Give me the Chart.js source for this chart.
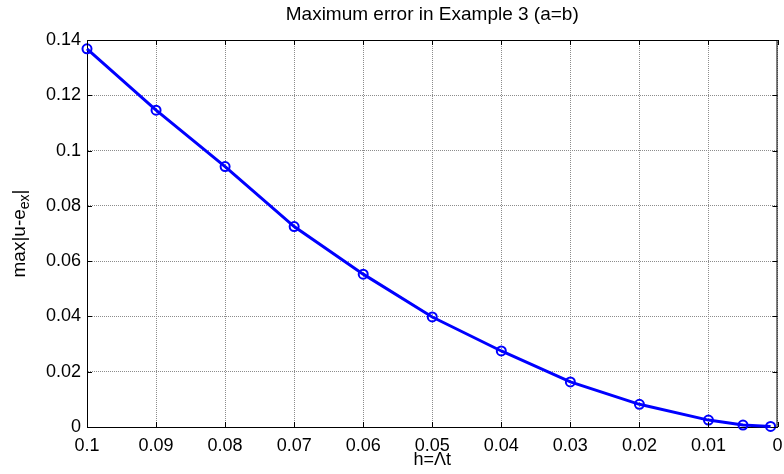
<!DOCTYPE html>
<html>
<head>
<meta charset="utf-8">
<script src="https://cdn.jsdelivr.net/npm/chart.js@4"></script>
<style>
    body { margin: 0; background: #fff; }
    #wrap { width: 784px; height: 474px; }
</style>
</head>
<body>
<div id="wrap"><canvas id="chart" width="784" height="474"></canvas></div>
<script>
// step sizes h and the maximum error for each
const hValues = [0.1, 0.09, 0.08, 0.07, 0.06, 0.05, 0.04, 0.03, 0.02, 0.01, 0.005, 0.001];
const maxErr = [0.1368, 0.1146, 0.0942, 0.0725, 0.0553, 0.0398, 0.0275, 0.0163, 0.0082, 0.0025, 0.0007, 0.0002];

const xTicks = [0.1, 0.09, 0.08, 0.07, 0.06, 0.05, 0.04, 0.03, 0.02, 0.01, 0];
const xTickLabels = ["0.1", "0.09", "0.08", "0.07", "0.06", "0.05", "0.04", "0.03", "0.02", "0.01", "0"];
const yTicks = [0, 0.02, 0.04, 0.06, 0.08, 0.1, 0.12, 0.14];
const yTickLabels = ["0", "0.02", "0.04", "0.06", "0.08", "0.1", "0.12", "0.14"];

const titleText = "Maximum error in Example 3 (a=b)";
const xLabel = "h=\u039Bt";

const FONT = "'Liberation Sans', Arial, Helvetica, sans-serif";

// MATLAB-ish frame: box, inward ticks, title and axis labels
const matlabFrame = {
    id: "matlabFrame",
    afterDraw(chart) {
        const ctx = chart.ctx;
        const a = chart.chartArea;
        const xs = chart.scales.x, ys = chart.scales.y;
        ctx.save();
        ctx.strokeStyle = "#000";
        ctx.lineWidth = 1;
        ctx.beginPath();
        ctx.moveTo(a.left, a.top + 0.5);
        ctx.lineTo(a.right, a.top + 0.5);
        ctx.moveTo(a.right - 0.5, a.top);
        ctx.lineTo(a.right - 0.5, a.bottom);
        // inward ticks
        const tl = 5;
        xTicks.forEach(v => {
            const px = Math.round(xs.getPixelForValue(v)) + 0.5;
            ctx.moveTo(px, a.bottom); ctx.lineTo(px, a.bottom - tl);
            ctx.moveTo(px, a.top); ctx.lineTo(px, a.top + tl);
        });
        yTicks.forEach(v => {
            const py = Math.round(ys.getPixelForValue(v)) + 0.5;
            ctx.moveTo(a.left, py); ctx.lineTo(a.left + tl, py);
            ctx.moveTo(a.right, py); ctx.lineTo(a.right - tl, py);
        });
        ctx.stroke();

        ctx.fillStyle = "#000";
        ctx.textAlign = "center";
        ctx.textBaseline = "middle";
        ctx.font = "19px " + FONT;
        const cx = (a.left + a.right) / 2;
        ctx.fillText(titleText, cx, 15);
        ctx.font = "18px " + FONT;
        ctx.fillText(xLabel, cx, 460);

        // y label with subscript
        ctx.translate(19, (a.top + a.bottom) / 2);
        ctx.rotate(-Math.PI / 2);
        ctx.textAlign = "left";
        ctx.textBaseline = "alphabetic";
        const main = "max|u-e", sub = "ex", tail = "|";
        ctx.font = "19px " + FONT;
        const w1 = ctx.measureText(main).width;
        const w3 = ctx.measureText(tail).width;
        ctx.font = "14px " + FONT;
        const w2 = ctx.measureText(sub).width;
        const total = w1 + w2 + w3;
        let x0 = -total / 2;
        ctx.font = "19px " + FONT;
        ctx.fillText(main, x0, 6);
        ctx.font = "14px " + FONT;
        ctx.fillText(sub, x0 + w1, 10);
        ctx.font = "19px " + FONT;
        ctx.fillText(tail, x0 + w1 + w2, 6);
        ctx.restore();
    }
};

new Chart(document.getElementById("chart"), {
    type: "line",
    data: {
        datasets: [{
            data: hValues.map((h, i) => ({ x: h, y: maxErr[i] })),
            borderColor: "#0000ff",
            borderWidth: 3,
            pointRadius: 4.5,
            pointBorderWidth: 2,
            pointBackgroundColor: "rgba(0,0,0,0)",
            pointBorderColor: "#0000ff",
            tension: 0,
            clip: false
        }]
    },
    options: {
        responsive: false,
        animation: false,
        layout: { padding: { top: 40, left: 0, right: 4, bottom: 0 } },
        plugins: { legend: { display: false }, tooltip: { enabled: false } },
        scales: {
            x: {
                type: "linear",
                reverse: true,
                min: 0,
                max: 0.1,
                afterBuildTicks: s => { s.ticks = xTicks.map(v => ({ value: v })); },
                afterFit: s => { s.height = 47; s.paddingLeft = 0; s.paddingRight = 0; },
                ticks: {
                    color: "#000",
                    font: { family: FONT, size: 18 },
                    padding: 8,
                    maxRotation: 0,
                    autoSkip: false,
                    callback: (v, i) => xTickLabels[i]
                },
                grid: { color: "#8c8c8c", lineWidth: 1, drawTicks: false },
                border: { display: true, color: "#000", width: 1, dash: [1, 1] }
            },
            y: {
                type: "linear",
                min: 0,
                max: 0.14,
                afterBuildTicks: s => { s.ticks = yTicks.map(v => ({ value: v })); },
                afterFit: s => { s.width = 87; s.paddingTop = 0; s.paddingBottom = 0; },
                ticks: {
                    color: "#000",
                    font: { family: FONT, size: 18 },
                    padding: 6,
                    autoSkip: false,
                    callback: (v, i) => yTickLabels[i]
                },
                grid: { color: "#8c8c8c", lineWidth: 1, drawTicks: false },
                border: { display: true, color: "#000", width: 1, dash: [1, 1] }
            }
        }
    },
    plugins: [matlabFrame]
});
</script>
</body>
</html>
